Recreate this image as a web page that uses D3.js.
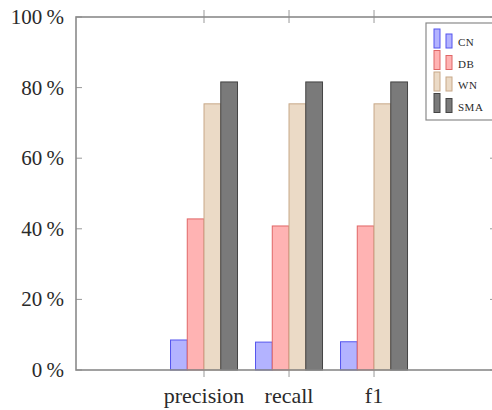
<!DOCTYPE html>
<html>
<head>
<meta charset="utf-8">
<script src="https://cdn.jsdelivr.net/npm/d3@7"></script>
<style>
  body { margin: 0; background: #fff; }
  text { font-family: "Liberation Serif", "DejaVu Serif", serif; fill: #2a2a2a; }
</style>
</head>
<body>
<svg id="chart" width="492" height="410"></svg>
<script>
// metrics on the x axis and the four methods
var metrics = ["precision", "recall", "f1"];
var methods = ["CN", "DB", "WN", "SMA"];

// values in percent, one array per method (precision, recall, f1)
var valuesCN = [8.5, 7.9, 8.0];
var valuesDB = [42.8, 40.8, 40.8];
var valuesWN = [75.4, 75.4, 75.4];
var valuesSMA = [81.6, 81.6, 81.6];

var yTicks = [0, 20, 40, 60, 80, 100];

var fillColors = ["#b3b3ff", "#ffb3b3", "#ebdac6", "#7a7a7a"];
var strokeColors = ["#5555ee", "#e06666", "#c8a888", "#444444"];

var seriesData = [valuesCN, valuesDB, valuesWN, valuesSMA];

var svg = d3.select("#chart");

// plot area (note: "top" is a reserved window global, so use other names)
var plotLeft = 76, plotRight = 496, plotTop = 17, plotBottom = 370;

// category index scale, axis is enlarged on both sides
var x = d3.scaleLinear()
    .domain([-1.506, 3.435])
    .range([plotLeft, plotRight]);

var y = d3.scaleLinear()
    .domain([0, 100])
    .range([plotBottom, plotTop]);

var barWidth = 16.75;

// x ticks (drawn under the bars)
metrics.forEach(function (m, i) {
    svg.append("line")
        .attr("x1", x(i)).attr("x2", x(i))
        .attr("y1", plotBottom - 6).attr("y2", plotBottom + 7)
        .attr("stroke", "#999").attr("stroke-width", 1);
    svg.append("line")
        .attr("x1", x(i)).attr("x2", x(i))
        .attr("y1", plotTop - 7).attr("y2", plotTop + 6)
        .attr("stroke", "#999").attr("stroke-width", 1);
});

// bars
seriesData.forEach(function (vals, s) {
    svg.append("g")
        .selectAll("rect")
        .data(vals)
        .enter()
        .append("rect")
        .attr("x", function (d, i) { return x(i) + (s - 2) * barWidth; })
        .attr("y", function (d) { return y(d); })
        .attr("width", barWidth)
        .attr("height", function (d) { return y(0) - y(d); })
        .attr("fill", fillColors[s])
        .attr("stroke", strokeColors[s])
        .attr("stroke-width", 1);
});

// y ticks on left and right
yTicks.forEach(function (t) {
    svg.append("line")
        .attr("x1", plotLeft).attr("x2", plotLeft + 6)
        .attr("y1", y(t)).attr("y2", y(t))
        .attr("stroke", "#999");
    svg.append("line")
        .attr("x1", plotRight - 6).attr("x2", plotRight)
        .attr("y1", y(t)).attr("y2", y(t))
        .attr("stroke", "#999");
    svg.append("text")
        .attr("x", 64)
        .attr("y", y(t) + 7)
        .attr("text-anchor", "end")
        .style("font-size", "21px")
        .text(t + "\u2009%");
});

// frame
svg.append("rect")
    .attr("x", plotLeft).attr("y", plotTop)
    .attr("width", plotRight - plotLeft).attr("height", plotBottom - plotTop)
    .attr("fill", "none")
    .attr("stroke", "#8a8a8a")
    .attr("stroke-width", 1.6);

// x labels
metrics.forEach(function (m, i) {
    svg.append("text")
        .attr("x", x(i))
        .attr("y", 403)
        .attr("text-anchor", "middle")
        .style("font-size", "22px")
        .text(m);
});

// legend
var legend = svg.append("g");
legend.append("rect")
    .attr("x", 426).attr("y", 23)
    .attr("width", 72).attr("height", 97)
    .attr("fill", "#fff")
    .attr("stroke", "#8a8a8a")
    .attr("stroke-width", 1.2);

methods.forEach(function (m, i) {
    var ry = 29 + i * 21.5;
    legend.append("rect")
        .attr("x", 434).attr("y", ry)
        .attr("width", 6).attr("height", 19)
        .attr("fill", fillColors[i]).attr("stroke", strokeColors[i]);
    legend.append("rect")
        .attr("x", 446).attr("y", ry + 5)
        .attr("width", 6).attr("height", 14)
        .attr("fill", fillColors[i]).attr("stroke", strokeColors[i]);
    legend.append("text")
        .attr("x", 458)
        .attr("y", ry + 17)
        .style("font-size", "11px")
        .style("letter-spacing", "0.5px")
        .text(m);
});
</script>
</body>
</html>
